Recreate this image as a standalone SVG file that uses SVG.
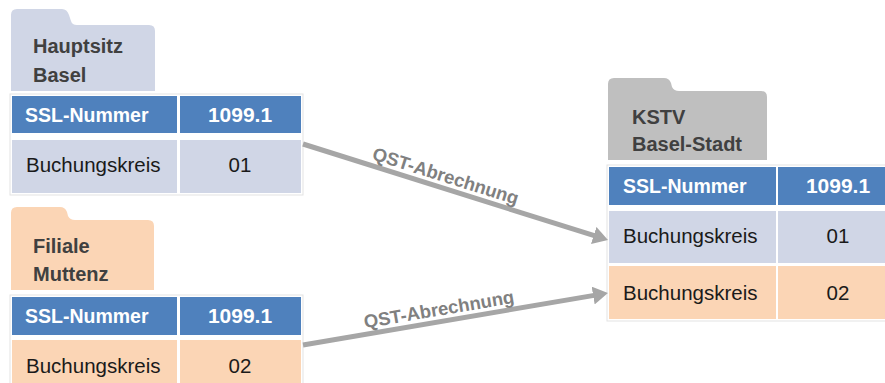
<svg xmlns="http://www.w3.org/2000/svg" width="885" height="383" viewBox="0 0 885 383">
<defs>
<style>
.bg{fill:#ffffff;stroke:#e3e3e3;stroke-width:1}
.hd{fill:#4f81bd}
.blue{fill:#d0d6e6}
.peach{fill:#fbd5b5}
.gray{fill:#bfbfbf}
.ft{font-family:"Liberation Sans",Arial,sans-serif;font-weight:bold;font-size:20px;fill:#404040}
.ht{font-family:"Liberation Sans",Arial,sans-serif;font-weight:bold;font-size:19.5px;fill:#ffffff}
.hn{font-family:"Liberation Sans",Arial,sans-serif;font-weight:bold;font-size:21px;fill:#ffffff;text-anchor:middle}
.ct{font-family:"Liberation Sans",Arial,sans-serif;font-size:20.5px;fill:#1a1a1a}
.cn{font-family:"Liberation Sans",Arial,sans-serif;font-size:20.5px;fill:#1a1a1a;text-anchor:middle}
.arr{stroke:#a6a6a6;stroke-width:5;fill:none}
.lbl{font-family:"Liberation Sans",Arial,sans-serif;font-weight:bold;font-size:18.5px;fill:#808080;text-anchor:middle}
</style>
<marker id="ah" viewBox="0 0 15 18" refX="4" refY="9" markerWidth="15" markerHeight="18" markerUnits="userSpaceOnUse" orient="auto">
<path d="M0,0 L15,9 L0,18 Z" fill="#a6a6a6"/>
</marker>
</defs>

<g id="hauptsitz">
<path class="blue" d="M11,91 V15 Q11,9 17,9 H62 Q67,9 69,15 L71,21 Q72,25 77,25 H149 Q155,25 155,31 V91 Z"/>
<text class="ft" x="33" y="53">Hauptsitz</text>
<text class="ft" x="33" y="82">Basel</text>
<rect class="bg" x="10" y="94" width="293" height="101"/>
<rect class="hd" x="12" y="96" width="165" height="37"/>
<rect class="hd" x="180" y="96" width="121" height="37"/>
<rect class="blue" x="12" y="140" width="165" height="53"/>
<rect class="blue" x="180" y="140" width="121" height="53"/>
<text class="ht" x="25" y="122">SSL-Nummer</text>
<text class="hn" x="240" y="122">1099.1</text>
<text class="ct" x="26" y="172">Buchungskreis</text>
<text class="cn" x="240" y="172">01</text>
</g>

<g id="filiale">
<path class="peach" d="M11,290 V213 Q11,207 17,207 H60 Q65,207 67,212 L68,216 Q70,220 75,220 H148 Q154,220 154,226 V290 Z"/>
<text class="ft" x="33" y="253">Filiale</text>
<text class="ft" x="33" y="281">Muttenz</text>
<rect class="bg" x="10" y="295" width="293" height="100"/>
<rect class="hd" x="12" y="297" width="165" height="38"/>
<rect class="hd" x="180" y="297" width="121" height="38"/>
<rect class="peach" x="12" y="340" width="165" height="53"/>
<rect class="peach" x="180" y="340" width="121" height="53"/>
<text class="ht" x="25" y="323">SSL-Nummer</text>
<text class="hn" x="240" y="323">1099.1</text>
<text class="ct" x="26" y="373">Buchungskreis</text>
<text class="cn" x="240" y="373">02</text>
</g>

<g id="kstv">
<path class="gray" d="M608,160 V84 Q608,78 614,78 H664 Q669,78 671,83 L672,87 Q674,91 679,91 H761 Q767,91 767,97 V160 Z"/>
<text class="ft" x="632" y="124">KSTV</text>
<text class="ft" x="632" y="151">Basel-Stadt</text>
<rect class="bg" x="607" y="165" width="290" height="156"/>
<rect class="hd" x="609" y="167" width="167" height="38"/>
<rect class="hd" x="778" y="167" width="120" height="38"/>
<rect class="blue" x="609" y="211" width="167" height="52"/>
<rect class="blue" x="778" y="211" width="120" height="52"/>
<rect class="peach" x="609" y="266" width="167" height="53"/>
<rect class="peach" x="778" y="266" width="120" height="53"/>
<text class="ht" x="623" y="193">SSL-Nummer</text>
<text class="hn" x="838" y="193">1099.1</text>
<text class="ct" x="623" y="243">Buchungskreis</text>
<text class="cn" x="838" y="243">01</text>
<text class="ct" x="623" y="300">Buchungskreis</text>
<text class="cn" x="838" y="300">02</text>
</g>

<g id="connectors">
<line class="arr" x1="303" y1="144" x2="597.5" y2="236.7" marker-end="url(#ah)"/>
<line class="arr" x1="303" y1="345" x2="597.1" y2="294.9" marker-end="url(#ah)"/>
<text class="lbl" transform="translate(442,187.8) rotate(17.47)" x="0" y="-6">QST-Abrechnung</text>
<text class="lbl" transform="translate(441,321.5) rotate(-9.68)" x="0" y="-6">QST-Abrechnung</text>
</g>
</svg>
